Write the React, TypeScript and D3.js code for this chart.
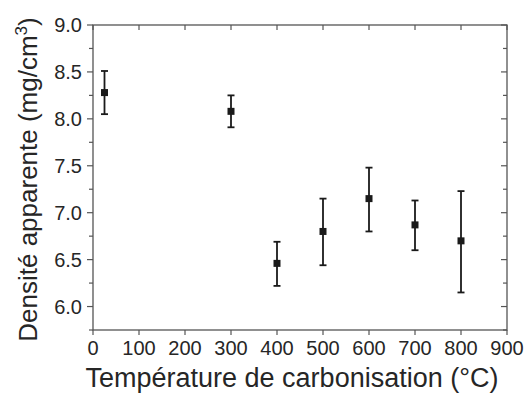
import * as d3 from 'd3';
import React from 'react';

// carbonisation temperature (°C) and apparent density (mg/cm3)
const temperatures = [25, 300, 400, 500, 600, 700, 800];
const densities = [8.28, 8.08, 6.46, 6.8, 7.15, 6.87, 6.7];
const errLow = [8.05, 7.91, 6.22, 6.44, 6.8, 6.6, 6.15];
const errHigh = [8.51, 8.25, 6.69, 7.15, 7.48, 7.13, 7.23];

const xTicks = [0, 100, 200, 300, 400, 500, 600, 700, 800, 900];
const yTicks = [6.0, 6.5, 7.0, 7.5, 8.0, 8.5, 9.0];
const yMinor = [5.75, 6.25, 6.75, 7.25, 7.75, 8.25, 8.75];

const width = 525;
const height = 401;
const margin = { top: 25, right: 18, bottom: 71, left: 93 };

const font = 'Liberation Sans, Arial, Helvetica, sans-serif';
const axisColor = '#555555';
const textColor = '#262626';
const markColor = '#1a1a1a';

export default function App() {
  const x = d3
    .scaleLinear()
    .domain([0, 900])
    .range([margin.left, width - margin.right]);
  const y = d3
    .scaleLinear()
    .domain([5.75, 9.0])
    .range([height - margin.bottom, margin.top]);

  const [x0, x1] = x.range();
  const [y0, y1] = y.range();
  const fmt = d3.format('.1f');

  return (
    <svg
      width={width}
      height={height}
      style={{ position: 'absolute', left: 0, top: 0, background: '#fff' }}
      fontFamily={font}
    >
      {/* frame */}
      <rect x={x0} y={y1} width={x1 - x0} height={y0 - y1} fill="none" stroke={axisColor} strokeWidth={1.3} />

      {/* x ticks: bottom outward, top inward */}
      {xTicks.map((t) => (
        <g key={`xt${t}`}>
          <line x1={x(t)} x2={x(t)} y1={y0} y2={y0 + 5} stroke={axisColor} strokeWidth={1.2} />
          <line x1={x(t)} x2={x(t)} y1={y1} y2={y1 + 5} stroke={axisColor} strokeWidth={1.2} />
          <text x={x(t)} y={y0 + 25} textAnchor="middle" fontSize={20} fill={textColor}>
            {t}
          </text>
        </g>
      ))}

      {/* y ticks: left outward, right inward */}
      {yTicks.map((t) => (
        <g key={`yt${t}`}>
          <line x1={x0 - 6} x2={x0} y1={y(t)} y2={y(t)} stroke={axisColor} strokeWidth={1.2} />
          <line x1={x1 - 6} x2={x1} y1={y(t)} y2={y(t)} stroke={axisColor} strokeWidth={1.2} />
          <text x={x0 - 11} y={y(t)} dy="0.36em" textAnchor="end" fontSize={20} fill={textColor}>
            {fmt(t)}
          </text>
        </g>
      ))}
      {yMinor.map((t) => (
        <g key={`ym${t}`}>
          <line x1={x0 - 4} x2={x0} y1={y(t)} y2={y(t)} stroke={axisColor} strokeWidth={1.2} />
          <line x1={x1 - 4} x2={x1} y1={y(t)} y2={y(t)} stroke={axisColor} strokeWidth={1.2} />
        </g>
      ))}

      {/* error bars and markers */}
      {temperatures.map((t, i) => {
        const cx = x(t);
        return (
          <g key={`pt${t}`} stroke={markColor} strokeWidth={1.8}>
            <line x1={cx} x2={cx} y1={y(errLow[i])} y2={y(errHigh[i])} />
            <line x1={cx - 3.5} x2={cx + 3.5} y1={y(errLow[i])} y2={y(errLow[i])} />
            <line x1={cx - 3.5} x2={cx + 3.5} y1={y(errHigh[i])} y2={y(errHigh[i])} />
            <rect x={cx - 3.5} y={y(densities[i]) - 3.5} width={7} height={7} fill={markColor} stroke="none" />
          </g>
        );
      })}

      {/* axis titles */}
      <text x={292} y={387} textAnchor="middle" fontSize={27} fill={textColor}>
        Température de carbonisation (°C)
      </text>
      <text
        transform={`translate(37,${(y0 + y1) / 2 + 2}) rotate(-90)`}
        textAnchor="middle"
        fontSize={26}
        fill={textColor}
      >
        Densité apparente (mg/cm
        <tspan fontSize={17} dy={-10}>
          3
        </tspan>
        <tspan dy={10}>)</tspan>
      </text>
    </svg>
  );
}
